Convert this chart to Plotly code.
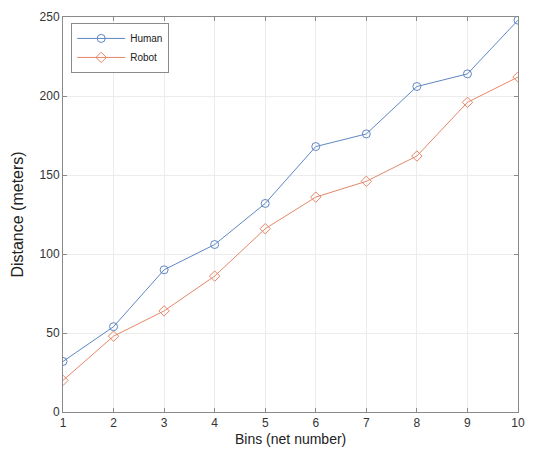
import plotly.graph_objects as go

bins = [1, 2, 3, 4, 5, 6, 7, 8, 9, 10]
human = [32, 54, 90, 106, 132, 168, 176, 206, 214, 248]
robot = [20, 48, 64, 86, 116, 136, 146, 162, 196, 212]
y_ticks = [0, 50, 100, 150, 200, 250]

blue = "rgb(95,135,195)"
orange = "rgb(228,135,105)"

fig = go.Figure()
fig.add_trace(go.Scatter(x=bins, y=human, name="Human", mode="lines+markers",
                         line=dict(color=blue, width=1),
                         marker=dict(symbol="circle-open", size=8, color=blue, line=dict(width=1))))
fig.add_trace(go.Scatter(x=bins, y=robot, name="Robot", mode="lines+markers",
                         line=dict(color=orange, width=1),
                         marker=dict(symbol="diamond-open", size=8, color=orange, line=dict(width=1))))

axis_common = dict(showline=True, linecolor="#8a8a8a", linewidth=1, mirror="ticks",
                   ticks="inside", ticklen=4, tickcolor="#8a8a8a", automargin=False,
                   ticklabeloverflow="allow",
                   showgrid=True, gridcolor="#ececec", gridwidth=1, zeroline=False,
                   tickfont=dict(family="Liberation Sans, Arial", size=12, color="#333"))

fig.update_xaxes(range=[1, 10], tickvals=bins, **axis_common)
fig.update_yaxes(range=[0, 250], tickvals=y_ticks, **axis_common,
                 title=dict(text="Distance (meters)", standoff=11,
                            font=dict(family="Liberation Sans, Arial", size=16, color="#222")))

fig.add_annotation(text="Bins (net number)", xref="paper", yref="paper", x=0.5, y=0,
                   xanchor="center", yanchor="top", yshift=-18, showarrow=False,
                   borderpad=0, font=dict(family="Liberation Sans, Arial", size=14, color="#222"))

fig.update_layout(width=519, height=440, margin=dict(l=55, r=9, t=9, b=36),
                  plot_bgcolor="white", paper_bgcolor="white",
                  showlegend=True,
                  legend=dict(x=0.018, y=0.985, xanchor="left", yanchor="top",
                              bgcolor="white", bordercolor="#8a8a8a", borderwidth=1,
                              font=dict(family="Liberation Sans, Arial", size=10, color="#222"),
                              tracegroupgap=0, itemwidth=48))

fig.write_html("out.html")
